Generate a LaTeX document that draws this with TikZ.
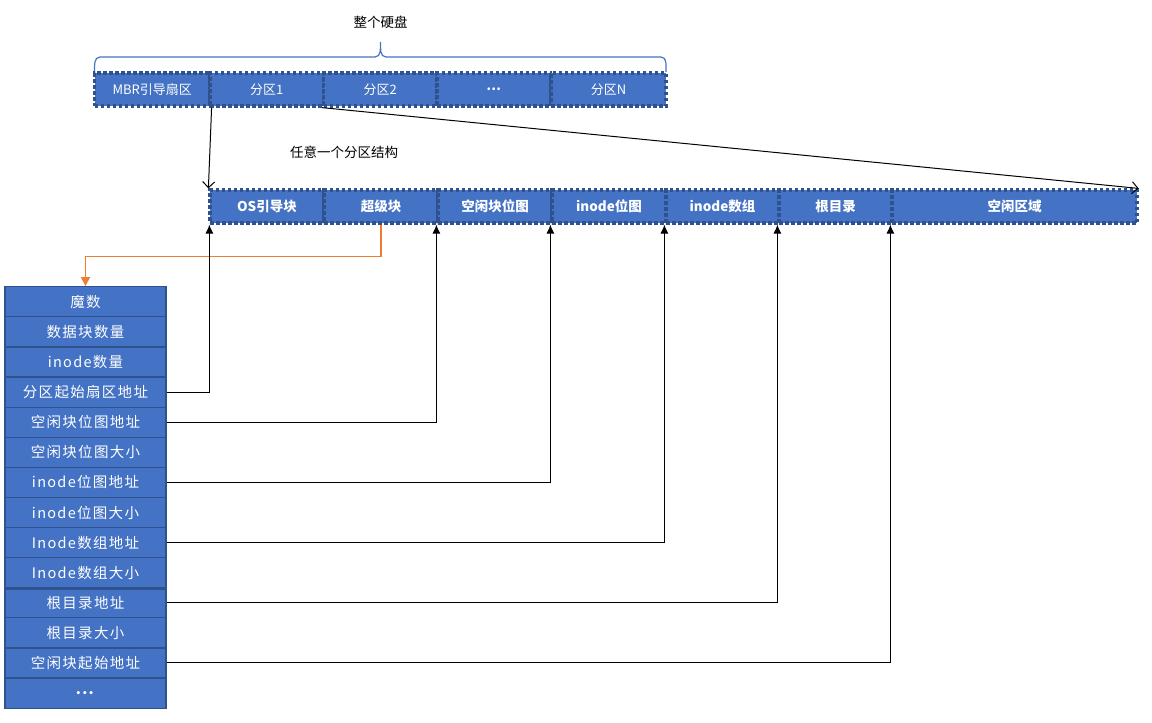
\documentclass[tikz,border=0pt]{standalone}
\usepackage{fontspec}
\setmainfont{Noto Sans CJK SC}
\newfontfamily\tabfont{Noto Sans CJK SC}[LetterSpace=9]
\usetikzlibrary{arrows.meta}
\definecolor{cellblue}{HTML}{4472C4}
\definecolor{edgeblue}{HTML}{2F528F}
\definecolor{orangeln}{HTML}{ED7D31}
\tikzset{
  diskcell/.style={draw=edgeblue, fill=cellblue, line width=3.2pt, dash pattern=on 3.5pt off 2.5pt,
    minimum height=33pt, inner sep=0pt, text=white, font=\fontsize{13}{15}\selectfont},
  partcell/.style={diskcell, font=\fontsize{13.5}{15}\selectfont\bfseries},
  tabrow/.style={draw=edgeblue, fill=cellblue, line width=1.2pt, minimum width=161pt,
    minimum height=30.1pt, inner sep=0pt, text=white, font=\fontsize{14.5}{16}\selectfont\tabfont},
  link/.style={draw=black, line width=1pt, -{Latex[length=9pt,width=8pt]}},
  openlink/.style={draw=black, line width=1pt, -{Straight Barb[length=6pt,width=12pt]}},
  plain/.style={font=\fontsize{13.5}{15}\selectfont, text=black}
}
\begin{document}
\begin{tikzpicture}[x=1pt,y=-1pt]
\useasboundingbox (0,0) rectangle (1152,723);

% title and brace
\node[plain] (title) at (380.5,22) {整个硬盘};
\draw[cellblue, line width=1.2pt] (94.5,72) to[out=90,in=180] (100,57) -- (375,57)
  to[out=0,in=-90] (380.5,42) to[out=-90,in=180] (386,57) -- (661,57)
  to[out=0,in=90] (666,72);

% whole disk row
\node[diskcell, minimum width=115.5pt] (mbr) at (152.25,89.5) {MBR引导扇区};
\node[diskcell, minimum width=113.5pt] (p1) at (266.75,89.5) {分区1};
\node[diskcell, minimum width=113.5pt] (p2) at (380.25,89.5) {分区2};
\node[diskcell, minimum width=113.5pt] (pd) at (493.75,89.5) {\textbf{…}};
\node[diskcell, minimum width=115pt] (pn) at (608.5,89.5) {分区N};

\node[plain] (ptitle) at (344,152) {任意一个分区结构};

% partition row
\node[partcell, minimum width=114pt] (os) at (267,206.5) {OS引导块};
\node[partcell, minimum width=114pt] (sb) at (381,206.5) {超级块};
\node[partcell, minimum width=114pt] (fbm) at (495,206.5) {空闲块位图};
\node[partcell, minimum width=114pt] (ibm) at (609,206.5) {inode位图};
\node[partcell, minimum width=113pt] (iarr) at (722.5,206.5) {inode数组};
\node[partcell, minimum width=113pt] (root) at (835.5,206.5) {根目录};
\node[partcell, minimum width=245pt] (free) at (1014.5,206.5) {空闲区域};

% super block table
\foreach \i/\t in {1/魔数, 2/数据块数量, 3/inode数量, 4/分区起始扇区地址, 5/空闲块位图地址,
  6/空闲块位图大小, 7/inode位图地址, 8/inode位图大小, 9/Inode数组地址, 10/Inode数组大小,
  11/根目录地址, 12/根目录大小, 13/空闲块起始地址, 14/\textbf{...}}{
  \node[tabrow] (r\i) at (85.5,{286.7+30.1*(\i-0.5)}) {\t};
}
\draw[edgeblue, line width=2.5pt] (r10.south west) -- (r10.south east);

% connectors
\draw[openlink] (mbr.south east) -- (os.north west);
\draw[openlink] (p2.south west) -- (free.north east);
\draw[orangeln, line width=1.2pt, -{Triangle[length=9pt,width=9pt]}] (sb.south) -- ++(0,32) -| (r1.north);
\draw[link] (r4.east) -| ([xshift=1pt]os.south west);
\draw[link] (r5.east) -| (fbm.south west);
\draw[link] (r7.east) -| (ibm.south west);
\draw[link] (r9.east) -| (iarr.south west);
\draw[link] (r11.east) -| (root.south west);
\draw[link] (r13.east) -| (free.south west);
\end{tikzpicture}
\end{document}
